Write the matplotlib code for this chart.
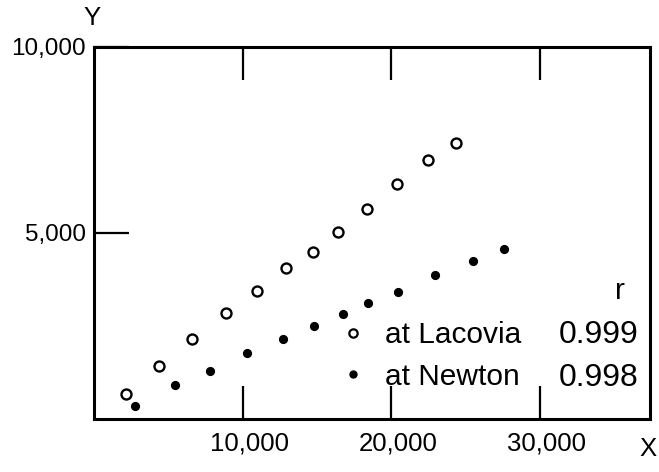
import numpy as np
import matplotlib
matplotlib.use("Agg")
import matplotlib.pyplot as plt
import matplotlib.transforms as mtransforms
from matplotlib.lines import Line2D

# values
lacovia_x = [2150, 4360, 6580, 8860, 10940, 12890, 14700, 16440, 18390, 20400, 22480, 24360]
lacovia_y = [670, 1420, 2140, 2860, 3450, 4060, 4490, 5030, 5640, 6310, 6950, 7410]
newton_x = [2750, 5440, 7790, 10270, 12690, 14830, 16780, 18460, 20470, 22950, 25500, 27580]
newton_y = [350, 910, 1280, 1770, 2140, 2510, 2830, 3130, 3420, 3880, 4250, 4570]
x_ticks = [10000, 20000, 30000]
x_labels = ["10,000", "20,000", "30,000"]
y_ticks = [5000, 10000]
y_labels = ["5,000", "10,000"]
series_names = ["at Lacovia", "at Newton"]
r_values = ["0.999", "0.998"]

plt.rcParams['font.family'] = ['Liberation Sans', 'DejaVu Sans']
fs_tick = 17.5
fs_leg = 21.5

fig = plt.figure(figsize=(6.59, 4.72), dpi=100)
ax = fig.add_axes([94/659, 1-419/472, 556/659, 372/472])

ax.plot(lacovia_x, lacovia_y, 'o', ms=7.2, mfc='white', mec='black', mew=1.7, ls='none')
ax.plot(newton_x, newton_y, 'o', ms=5.6, mfc='black', mec='black', ls='none')

ax.set_xlim(0, 37400)
ax.set_ylim(0, 10000)

ax.set_xticks(x_ticks)
ax.set_xticklabels(x_labels, fontsize=fs_tick + 1)
ax.set_yticks(y_ticks)
ax.set_yticklabels(y_labels, fontsize=fs_tick)
ax.tick_params(axis='x', direction='in', length=24, width=1.6, top=True, pad=9)
ax.tick_params(axis='y', direction='in', length=25, width=1.6, pad=6)

# the x labels in the original sit a little right of their ticks
shift = mtransforms.ScaledTranslation(7/100, 0, fig.dpi_scale_trans)
for lab in ax.get_xticklabels():
    lab.set_transform(lab.get_transform() + shift)

for s in ax.spines.values():
    s.set_linewidth(2.2)

# axis letters
fig.text(92/659, 1-18/472, "Y", fontsize=fs_tick+1, ha='center', va='center')
fig.text(648/659, 1-449/472, "X", fontsize=fs_tick+1, ha='center', va='center')

# legend with correlation coefficients
handles = [
    Line2D([], [], marker='o', ms=6.0, mfc='white', mec='black', mew=1.6, ls='none'),
    Line2D([], [], marker='o', ms=5.0, mfc='black', mec='black', ls='none'),
]
leg = ax.legend(handles, series_names, loc='center left', bbox_to_anchor=((340-94)/556, (419-356)/372),
                frameon=False, fontsize=fs_leg, handlelength=0.9, handletextpad=0.6,
                labelspacing=0.45, borderpad=0, borderaxespad=0)

fig.text(620/659, 1-291/472, "r", fontsize=fs_leg, ha='center', va='center')
fig.text(639/659, 1-335/472, r_values[0], fontsize=fs_leg + 1.5, ha='right', va='center')
fig.text(639/659, 1-378/472, r_values[1], fontsize=fs_leg + 1.5, ha='right', va='center')

fig.savefig("out.png", dpi=100)
